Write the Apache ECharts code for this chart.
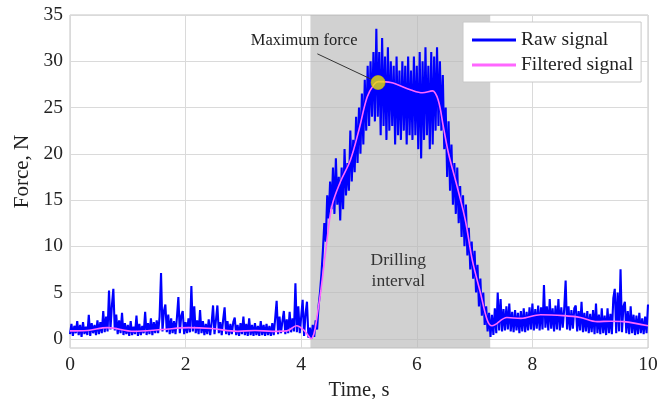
<!DOCTYPE html>
<html>
<head>
<meta charset="utf-8">
<script src="https://cdn.jsdelivr.net/npm/echarts@6/dist/echarts.min.js"></script>
<style>
  html, body { margin: 0; padding: 0; background: #fff; }
  #chart { width: 672px; height: 399px; }
</style>
</head>
<body>
<div id="chart"></div>
<script>
// raw force, sampled every 0.025 s from t = 0 (10 samples per row = 0.25 s)
const sampleStep = 0.025;
const rawForce = [
  0.5, 1.6, 0.3, 1.4, 0.6, 1.9, 0.4, 1.5, 0.2, 1.8,   // 0.00
  0.5, 1.3, 0.4, 2.6, 0.3, 1.7, 0.6, 1.5, 0.4, 2.0,   // 0.25
  0.5, 1.8, 0.6, 3.0, 0.7, 2.4, 0.8, 5.2, 1.0, 3.6,   // 0.50
  5.4, 0.9, 2.6, 0.5, 2.0, 0.6, 2.8, 0.4, 1.7, 0.5,   // 0.75
  1.5, 0.3, 1.9, 0.4, 1.3, 0.5, 2.5, 0.3, 1.6, 0.4,   // 1.00
  1.4, 0.6, 2.9, 0.4, 1.7, 0.5, 2.2, 0.4, 1.8, 0.6,   // 1.25
  2.0, 0.6, 2.4, 7.1, 0.8, 3.0, 3.7, 0.7, 2.6, 0.5,   // 1.50
  2.2, 0.6, 1.9, 0.5, 2.3, 4.5, 0.6, 2.5, 3.0, 0.5,   // 1.75
  1.8, 0.6, 2.2, 0.7, 5.7, 0.8, 3.5, 0.6, 2.0, 0.5,   // 2.00
  3.1, 0.6, 1.9, 0.4, 1.6, 0.5, 2.1, 0.4, 1.7, 3.6,   // 2.25
  0.5, 2.0, 3.6, 0.6, 1.8, 0.4, 2.1, 3.4, 0.5, 1.9,   // 2.50
  0.4, 1.6, 0.5, 1.8, 2.3, 0.4, 1.5, 0.3, 1.7, 0.5,   // 2.75
  2.4, 0.4, 1.6, 0.3, 2.2, 0.4, 1.5, 0.3, 1.7, 0.4,   // 3.00
  1.4, 0.3, 1.9, 0.4, 1.5, 0.3, 1.6, 0.4, 1.4, 0.3,   // 3.25
  1.7, 0.4, 2.2, 4.1, 0.5, 2.4, 0.6, 1.9, 3.0, 0.5,   // 3.50
  2.1, 0.6, 2.9, 0.7, 2.2, 0.8, 6.0, 0.7, 3.5, 0.6,   // 3.75
  2.4, 4.2, 0.3, 2.7, 4.0, 0.1, 1.2, 0.0, 1.5, 0.2,   // 4.00
  2.0, 1.0, 3.5, 5.0, 7.0, 9.5, 12.5, 10.5, 15.5, 13.0,   // 4.25
  17.0, 14.0, 18.5, 13.5, 19.5, 14.5, 17.5, 12.8, 18.5, 14.0,   // 4.50
  20.5, 15.5, 19.0, 16.0, 22.5, 17.0, 21.5, 18.0, 24.0, 19.0,   // 4.75
  25.0, 20.0, 26.5, 21.0, 28.0, 22.5, 29.5, 23.0, 30.0, 24.0,   // 5.00
  31.0, 23.5, 33.5, 24.0, 31.0, 22.0, 32.5, 23.0, 30.5, 21.5,   // 5.25
  31.5, 22.5, 30.0, 23.0, 29.5, 21.0, 30.5, 22.0, 29.0, 21.5,   // 5.50
  30.0, 22.5, 29.5, 21.0, 30.5, 22.0, 29.0, 21.5, 30.5, 22.0,   // 5.75
  29.5, 20.5, 31.0, 19.5, 30.0, 21.5, 31.5, 22.0, 29.5, 20.5,   // 6.00
  31.0, 21.0, 30.5, 22.5, 31.5, 23.0, 30.0, 22.5, 28.5, 20.5,   // 6.25
  25.0, 17.5, 23.5, 16.0, 21.0, 14.5, 19.0, 13.5, 18.5, 12.5,   // 6.50
  16.5, 11.0, 15.5, 10.0, 14.5, 9.0, 12.0, 7.5, 10.5, 6.5,   // 6.75
  9.5, 5.0, 8.0, 3.5, 6.5, 2.5, 5.0, 1.5, 3.5, 0.8,   // 7.00
  2.8, 0.2, 2.6, 0.4, 3.3, 0.6, 5.0, 0.9, 4.3, 0.8,   // 7.25
  3.2, 0.9, 3.5, 1.0, 3.8, 0.8, 2.9, 0.7, 3.1, 0.9,   // 7.50
  2.8, 0.6, 3.0, 0.8, 3.3, 0.7, 2.9, 0.9, 3.4, 1.0,   // 7.75
  3.8, 0.9, 3.2, 1.1, 3.6, 0.9, 3.4, 1.0, 5.8, 1.2,   // 8.00
  3.5, 0.9, 4.3, 1.1, 3.3, 0.8, 3.6, 1.0, 4.3, 0.9,   // 8.25
  3.4, 1.2, 3.2, 6.3, 1.0, 3.5, 0.9, 3.1, 1.1, 3.3,   // 8.50
  3.6, 0.8, 3.0, 0.9, 4.0, 0.7, 2.8, 0.8, 3.0, 0.6,   // 8.75
  2.7, 0.7, 3.1, 0.5, 3.8, 0.6, 2.6, 0.5, 3.3, 0.6,   // 9.00
  2.5, 0.4, 3.3, 0.6, 2.7, 0.5, 4.4, 5.4, 0.6, 5.0,   // 9.25
  0.8, 7.5, 0.7, 3.5, 4.0, 0.6, 3.0, 0.5, 3.5, 0.6,   // 9.50
  2.6, 0.4, 2.5, 0.5, 2.8, 0.6, 2.2, 0.5, 2.4, 0.6,   // 9.75
  3.7                                                 // 10.00
];

const filteredTime  = [0, 0.3, 0.65, 1.1, 1.6, 2.05, 2.45, 2.9, 3.2, 3.5, 3.75, 3.92, 4.05, 4.17,
  4.3, 4.42, 4.53, 4.68, 4.85, 5.0, 5.14, 5.26, 5.34, 5.55, 5.9, 6.1, 6.27, 6.37, 6.46, 6.55,
  6.7, 6.84, 6.96, 7.1, 7.22, 7.3, 7.56, 7.8, 8.14, 8.54, 8.83, 9.12, 9.35, 9.58, 10];
const filteredForce = [0.85, 0.9, 1.2, 0.8, 1.0, 1.2, 1.1, 0.8, 0.9, 0.8, 0.85, 1.4, 0.9, 0.0,
  3.5, 9.3, 14.3, 17.0, 19.3, 22.6, 26.1, 27.5, 27.8, 27.7, 26.9, 26.6, 26.8, 25.8, 22.9, 20.0,
  16.4, 12.8, 8.5, 5.0, 2.0, 1.4, 2.3, 2.2, 2.6, 2.5, 2.3, 1.85, 1.9, 1.85, 1.4];

const maxForce = [5.33, 27.7];
const drillingInterval = [4.16, 7.27];
const yTicks = [0, 5, 10, 15, 20, 25, 30, 35];
const seriesNames = ["Raw signal", "Filtered signal"];

// annotation anchors, in data units
const maxLabelAt = [4.05, 32.2];
const maxLeaderFrom = [4.28, 30.8];
const drillLabelAt = [5.68, 7.3];

const rawData = rawForce.map((v, i) => [+(i * sampleStep).toFixed(3), v]);
const filteredData = filteredTime.map((t, i) => [t, filteredForce[i]]);

const serif = "'Liberation Serif', 'DejaVu Serif', serif";
const chart = echarts.init(document.getElementById("chart"));

chart.setOption({
  animation: false,
  grid: {
    left: 70, right: 24, top: 15, bottom: 51,
    outerBoundsMode: "none",
    containLabel: false,
    show: true, borderColor: "#c4c4c4", borderWidth: 1,
  },
  legend: {
    data: seriesNames,
    orient: "vertical",
    left: 463, top: 22,
    padding: [8, 8, 7, 9],
    itemGap: 5,
    itemWidth: 44, itemHeight: 3,
    icon: "rect",
    backgroundColor: "#fff",
    borderColor: "#c8c8c8", borderWidth: 1,
    textStyle: { fontFamily: serif, fontSize: 19.5, color: "#222", lineHeight: 19 },
  },
  xAxis: {
    type: "value",
    min: 0, max: 10, interval: 2,
    name: "Time, s",
    nameLocation: "middle",
    nameGap: 30,
    nameTextStyle: { fontFamily: serif, fontSize: 20.5, color: "#222" },
    axisLine: { show: false },
    axisTick: { show: false },
    axisLabel: { fontFamily: serif, fontSize: 19.5, color: "#222", margin: 7 },
    splitLine: { lineStyle: { color: "#dadada" } },
  },
  yAxis: {
    type: "value",
    min: -1, max: 35,
    name: "Force, N",
    nameLocation: "middle",
    nameGap: 33,
    nameTextStyle: { fontFamily: serif, fontSize: 21, color: "#222", padding: [0, 0, 0, 20] },
    axisLine: { show: false },
    axisTick: { show: false, customValues: yTicks },
    axisLabel: { fontFamily: serif, fontSize: 19.5, color: "#222", margin: 7, customValues: yTicks },
    splitLine: { lineStyle: { color: "#dadada" } },
  },
  series: [
    {
      name: seriesNames[0],
      type: "line",
      data: rawData,
      showSymbol: false,
      sampling: null,
      lineStyle: { color: "#0000ff", width: 2.1 },
      itemStyle: { color: "#0000ff" },
      z: 2,
      markArea: {
        silent: true,
        itemStyle: { color: "rgba(185,185,185,0.65)" },
        data: [[{ xAxis: drillingInterval[0] }, { xAxis: drillingInterval[1] }]],
      },
    },
    {
      name: seriesNames[1],
      type: "line",
      data: filteredData,
      smooth: 0.35,
      showSymbol: false,
      lineStyle: { color: "#ff66ff", width: 1.6 },
      itemStyle: { color: "#ff66ff" },
      z: 3,
    },
    {
      name: "max",
      type: "scatter",
      data: [maxForce],
      symbolSize: 14,
      itemStyle: { color: "#e8e000", borderColor: "#c8b800", borderWidth: 0.8 },
      z: 5,
    },
  ],
});

const lblPx = chart.convertToPixel({ gridIndex: 0 }, maxLabelAt);
const fromPx = chart.convertToPixel({ gridIndex: 0 }, maxLeaderFrom);
const toPx = chart.convertToPixel({ gridIndex: 0 }, maxForce);
const drillPx = chart.convertToPixel({ gridIndex: 0 }, drillLabelAt);

chart.setOption({
  graphic: [
    {
      type: "line",
      shape: { x1: fromPx[0], y1: fromPx[1], x2: toPx[0] - 4, y2: toPx[1] - 2 },
      style: { stroke: "#333", lineWidth: 1 },
      z: 4,
    },
    {
      type: "text",
      x: lblPx[0], y: lblPx[1],
      style: {
        text: "Maximum force",
        font: "16.5px " + serif,
        fill: "#222",
        align: "center",
        verticalAlign: "middle",
      },
      z: 6,
    },
    {
      type: "text",
      x: drillPx[0], y: drillPx[1],
      style: {
        text: "Drilling\ninterval",
        font: "17.5px " + serif,
        lineHeight: 21,
        fill: "#333",
        align: "center",
        verticalAlign: "middle",
      },
      z: 6,
    },
  ],
});
</script>
</body>
</html>
